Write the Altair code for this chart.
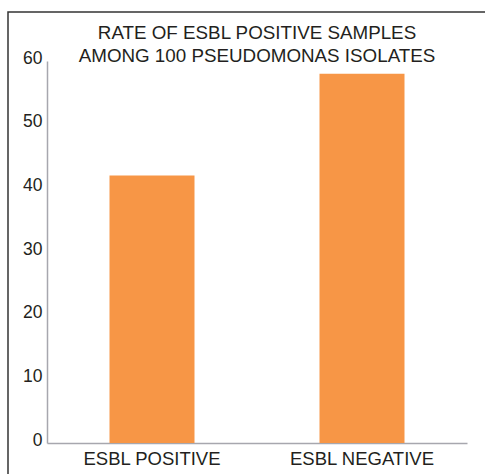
import altair as alt
import pandas as pd

# ESBL screening result among 100 Pseudomonas isolates
categories = ["ESBL POSITIVE", "ESBL NEGATIVE"]
counts = [42, 58]
y_ticks = [0, 10, 20, 30, 40, 50, 60]

df = pd.DataFrame({"group": categories, "count": counts})

TEXT = "#231f20"
AXIS = "#a7a7ae"
FONT = "Liberation Sans"

bars = alt.Chart(df).mark_bar(color="#F79646", size=85).encode(
    x=alt.X(
        "group:N",
        sort=categories,
        scale=alt.Scale(paddingInner=0, paddingOuter=0),
        axis=alt.Axis(
            title=None, labelAngle=0, ticks=False, domainColor=AXIS,
            domainWidth=1.5, labelFontSize=18.5, labelColor=TEXT,
            labelFont=FONT, labelPadding=6,
        ),
    ),
    y=alt.Y(
        "count:Q",
        scale=alt.Scale(domain=[0, 60], nice=False),
        axis=alt.Axis(
            title=None, values=y_ticks, grid=False, ticks=False,
            domainColor=AXIS, domainWidth=1.5, labelFontSize=17.5,
            labelColor=TEXT, labelFont=FONT, labelPadding=5, labelOffset=-3,
        ),
    ),
)

# thin frame around the figure
frame = alt.Chart(alt.Data(values=[{}])).mark_rect(
    fill=None, stroke="#333333", strokeWidth=1.5
).encode(
    x=alt.value(-39), x2=alt.value(460),
    y=alt.value(-49), y2=alt.value(460),
)

chart = alt.layer(frame, bars).properties(
    width=420,
    height=382,
    title=alt.TitleParams(
        text=["RATE OF ESBL POSITIVE SAMPLES", "AMONG 100 PSEUDOMONAS ISOLATES"],
        fontSize=18.8, font=FONT, fontWeight="normal", color=TEXT,
        anchor="middle", offset=0, lineHeight=23.5, dy=55,
    ),
    autosize=alt.AutoSizeParams(type="none"),
    padding={"left": 47, "top": 61, "right": 18, "bottom": 31},
).configure_view(stroke=None)

chart.save("out.html", embed_options={"renderer": "svg", "actions": False})
